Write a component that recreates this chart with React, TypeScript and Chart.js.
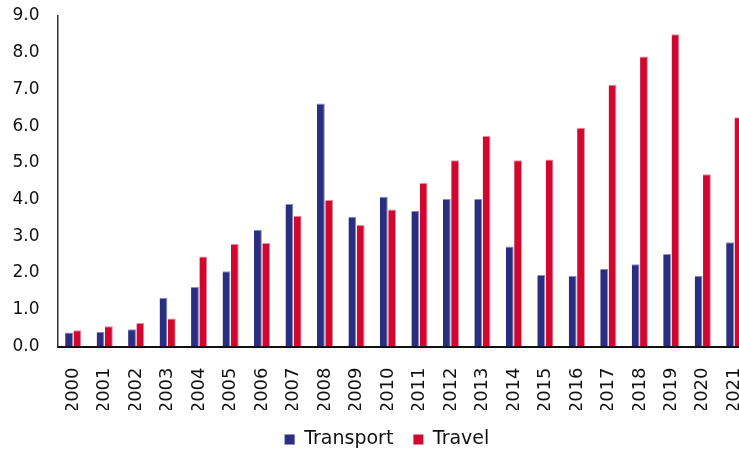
import React, { useEffect, useRef } from "react";
import { Chart, registerables } from "chart.js";

Chart.register(...registerables);

const years = ["2000","2001","2002","2003","2004","2005","2006","2007","2008","2009","2010","2011","2012","2013","2014","2015","2016","2017","2018","2019","2020","2021"];
const transport = [0.38,0.4,0.47,1.33,1.62,2.05,3.18,3.88,6.62,3.53,4.08,3.7,4.02,4.02,2.72,1.95,1.92,2.12,2.24,2.52,1.92,2.84];
const travel = [0.44,0.55,0.64,0.76,2.45,2.79,2.82,3.56,3.99,3.31,3.73,4.45,5.07,5.73,5.07,5.09,5.96,7.13,7.9,8.5,4.69,6.24];

const FONT = "'DejaVu Sans', sans-serif";

const legendShift = {
  id: "legendShift",
  afterLayout(c: any) {
    if (c.legend) {
      c.legend.left += 12;
      c.legend.right += 12;
    }
  },
};

export default function App() {
  const ref = useRef<HTMLCanvasElement | null>(null);
  useEffect(() => {
    if (!ref.current) return;
    const chart = new Chart(ref.current, {
      type: "bar",
      data: {
        labels: years,
        datasets: [
          {
            label: "Transport",
            data: transport,
            backgroundColor: "#2a2e80",
            borderColor: "#8a8cbf",
            borderWidth: { top: 1, right: 1, left: 0, bottom: 0 },
            categoryPercentage: 0.53,
            barPercentage: 0.94,
          },
          {
            label: "Travel",
            data: travel,
            backgroundColor: "#d0072f",
            borderColor: "#e88a9c",
            borderWidth: { top: 1, right: 1, left: 0, bottom: 0 },
            categoryPercentage: 0.53,
            barPercentage: 0.94,
          },
        ],
      },
      plugins: [legendShift],
      options: {
        animation: false,
        responsive: true,
        maintainAspectRatio: false,
        layout: { padding: { top: 16, right: 2, left: 0, bottom: -9 } },
        plugins: {
          tooltip: { enabled: false },
          legend: {
            position: "bottom",
            labels: {
              boxWidth: 10,
              boxHeight: 10,
              padding: 20,
              color: "#111",
              font: { family: FONT, size: 19 },
            },
          },
        },
        scales: {
          x: {
            grid: { display: false, drawTicks: false },
            border: { display: true, color: "#111", width: 2 },
            ticks: {
              minRotation: 90,
              maxRotation: 90,
              autoSkip: false,
              padding: 21,
              color: "#111",
              font: { family: FONT, size: 18 },
            },
            afterFit: (s: any) => { s.height = 63.5; s.paddingLeft = 0; s.paddingRight = 0; },
          },
          y: {
            min: 0,
            max: 9,
            grid: { display: false, drawTicks: false },
            border: { display: true, color: "#333", width: 1.5 },
            ticks: {
              stepSize: 1,
              padding: 18,
              color: "#111",
              font: { family: FONT, size: 17 },
              callback: (v: any) => Number(v).toFixed(1),
            },
            afterFit: (s: any) => { s.width = 57.5; s.paddingTop = 0; s.paddingBottom = 0; },
          },
        },
      },
    });
    return () => chart.destroy();
  }, []);
  return (
    <div style={{ position: "fixed", left: 0, top: 0, width: 739, height: 450, overflow: "hidden", background: "#fff" }}>
      <div style={{ position: "relative", width: 752, height: 450 }}>
        <canvas ref={ref} />
      </div>
    </div>
  );
}
